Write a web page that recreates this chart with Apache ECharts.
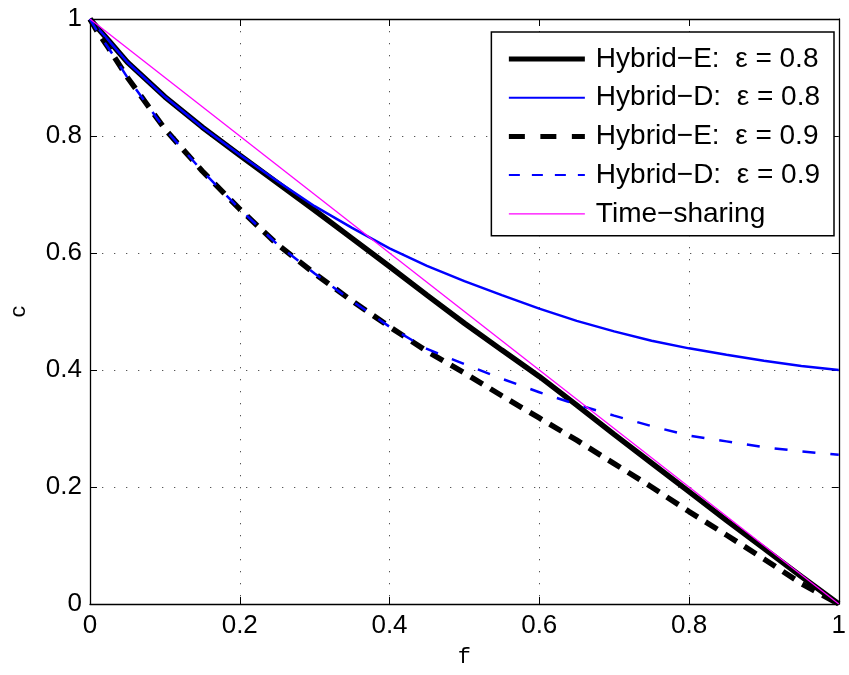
<!DOCTYPE html>
<html>
<head>
<meta charset="utf-8">
<script src="https://cdn.jsdelivr.net/npm/echarts@6/dist/echarts.min.js"></script>
<style>html,body{margin:0;padding:0;background:#fff}#chart{width:849px;height:675px}</style>
</head>
<body>
<div id="chart"></div>
<script>
// f values (x axis)
const fValues = [0, 0.01, 0.025, 0.05, 0.1, 0.15, 0.2, 0.25, 0.3, 0.35, 0.4, 0.45, 0.5, 0.55, 0.6, 0.65, 0.7, 0.75, 0.8, 0.85, 0.9, 0.95, 1];
// c values per series
const cHybridE08 = [1, 0.985, 0.963, 0.926, 0.867, 0.815, 0.767, 0.72, 0.673, 0.625, 0.577, 0.528, 0.48, 0.434, 0.389, 0.34, 0.29, 0.241, 0.192, 0.143, 0.095, 0.047, 0];
const cHybridD08 = [1, 0.985, 0.963, 0.926, 0.867, 0.815, 0.768, 0.723, 0.68, 0.643, 0.608, 0.578, 0.552, 0.528, 0.505, 0.484, 0.466, 0.45, 0.437, 0.426, 0.416, 0.407, 0.40];
const cHybridE09 = [1, 0.978, 0.95, 0.9, 0.812, 0.74, 0.675, 0.615, 0.565, 0.518, 0.474, 0.432, 0.395, 0.356, 0.318, 0.28, 0.24, 0.2, 0.158, 0.118, 0.077, 0.035, 0];
const cHybridD09 = [1, 0.978, 0.95, 0.9, 0.812, 0.74, 0.675, 0.615, 0.565, 0.518, 0.474, 0.436, 0.41, 0.385, 0.362, 0.341, 0.322, 0.304, 0.288, 0.278, 0.268, 0.261, 0.255];
const fTimeSharing = [0, 1];
const cTimeSharing = [1, 0];
// tick labels
const xTickLabels = ['0', '0.2', '0.4', '0.6', '0.8', '1'];
const yTickLabels = ['0', '0.2', '0.4', '0.6', '0.8', '1'];
const seriesNames = ['Hybrid\u2212E:  \u03b5 = 0.8', 'Hybrid\u2212D:  \u03b5 = 0.8', 'Hybrid\u2212E:  \u03b5 = 0.9', 'Hybrid\u2212D:  \u03b5 = 0.9', 'Time\u2212sharing'];

function pairs(xs, ys) { return xs.map((x, i) => [x, ys[i]]); }
function tickFmt(labels) { return v => labels[Math.round(v / 0.2)]; }

const styles = [
  { color: '#000000', width: 5.5, type: 'solid' },
  { color: '#0000ff', width: 2.5, type: 'solid' },
  { color: '#000000', width: 5.5, type: [14, 9] },
  { color: '#0000ff', width: 2.5, type: [13, 15] },
  { color: '#ff00ff', width: 1.3, type: 'solid' }
];
const legendStyles = [
  { color: '#000000', width: 5, type: 'solid' },
  { color: '#0000ff', width: 2, type: 'solid' },
  { color: '#000000', width: 5, type: [16, 15.5] },
  { color: '#0000ff', width: 2, type: [11, 12] },
  { color: '#ff00ff', width: 1.3, type: 'solid' }
];
const dataSets = [
  pairs(fValues, cHybridE08),
  pairs(fValues, cHybridD08),
  pairs(fValues, cHybridE09),
  pairs(fValues, cHybridD09),
  pairs(fTimeSharing, cTimeSharing)
];

const gridLine = { show: true, lineStyle: { color: '#555', width: 1, type: [1.3, 10.7] } };
const fontFam = 'Liberation Sans, Arial, Helvetica, sans-serif';

const chart = echarts.init(document.getElementById('chart'), null, { renderer: 'canvas' });
chart.setOption({
  animation: false,
  backgroundColor: '#ffffff',
  grid: { left: 85, right: 2, top: 19, bottom: 71, containLabel: false },
  legend: {
    right: 15, top: 32,
    orient: 'vertical',
    backgroundColor: '#ffffff',
    borderColor: '#000000',
    borderWidth: 1.5,
    padding: [11, 14, 6, 15],
    itemWidth: 76, itemHeight: 14, itemGap: 6.7,
    textStyle: { fontSize: 28, fontFamily: fontFam, color: '#000', lineHeight: 32, padding: [0, 0, 0, 6] },
    data: seriesNames.map((n, i) => ({ name: n, lineStyle: legendStyles[i], itemStyle: { opacity: 0 } }))
  },
  xAxis: [{
    type: 'value', min: 0, max: 1, interval: 0.2,
    name: 'f', nameLocation: 'middle', nameGap: 42,
    nameTextStyle: { fontFamily: 'Liberation Mono, DejaVu Sans Mono, monospace', fontSize: 22, color: '#000' },
    axisLine: { show: true, onZero: false, lineStyle: { color: '#000', width: 1.3 } },
    axisTick: { show: true, inside: true, length: 7, lineStyle: { color: '#000', width: 1 } },
    axisLabel: { formatter: tickFmt(xTickLabels), fontSize: 26, fontFamily: fontFam, color: '#000', margin: 9 },
    splitLine: gridLine
  }, {
    type: 'value', min: 0, max: 1, interval: 0.2, position: 'top',
    axisLine: { show: true, onZero: false, lineStyle: { color: '#000', width: 1.3 } },
    axisTick: { show: true, inside: true, length: 7, lineStyle: { color: '#000', width: 1 } },
    axisLabel: { show: false }, splitLine: { show: false }
  }],
  yAxis: [{
    type: 'value', min: 0, max: 1, interval: 0.2,
    name: 'c', nameLocation: 'middle', nameGap: 60,
    nameTextStyle: { fontFamily: 'Liberation Mono, DejaVu Sans Mono, monospace', fontSize: 22, color: '#000' },
    axisLine: { show: true, onZero: false, lineStyle: { color: '#000', width: 1.3 } },
    axisTick: { show: true, inside: true, length: 7, lineStyle: { color: '#000', width: 1 } },
    axisLabel: { formatter: tickFmt(yTickLabels), fontSize: 26, fontFamily: fontFam, color: '#000', margin: 8 },
    splitLine: gridLine
  }, {
    type: 'value', min: 0, max: 1, interval: 0.2, position: 'right',
    axisLine: { show: true, onZero: false, lineStyle: { color: '#000', width: 1.3 } },
    axisTick: { show: true, inside: true, length: 7, lineStyle: { color: '#000', width: 1 } },
    axisLabel: { show: false }, splitLine: { show: false }
  }],
  series: seriesNames.map((n, i) => ({
    name: n, type: 'line', xAxisIndex: 0, yAxisIndex: 0,
    data: dataSets[i], showSymbol: false, symbol: 'none',
    lineStyle: styles[i], itemStyle: { color: styles[i].color },
    z: 2 + i, clip: true
  }))
});
</script>
</body>
</html>
